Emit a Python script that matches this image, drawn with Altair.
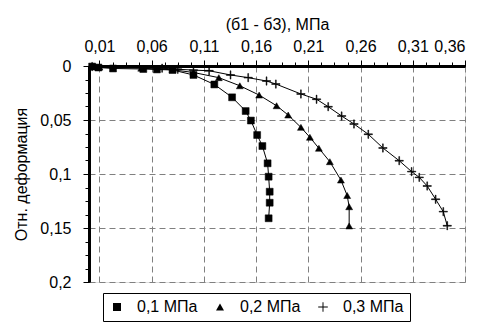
import altair as alt
import pandas as pd

series_names = ["0,1 МПа", "0,2 МПа", "0,3 МПа"]

# 0,1 MPa (squares)
s1_x = [0.003, 0.009, 0.023, 0.052, 0.065, 0.080, 0.100, 0.120, 0.137, 0.150, 0.155, 0.161, 0.166, 0.171, 0.172, 0.173, 0.173, 0.172]
s1_y = [0.0005, 0.0014, 0.0023, 0.0028, 0.0032, 0.0037, 0.0083, 0.0171, 0.0290, 0.0417, 0.0505, 0.0639, 0.0741, 0.0901, 0.1025, 0.1164, 0.1266, 0.1410]

# 0,2 MPa (triangles)
s2_x = [0.003, 0.010, 0.050, 0.080, 0.100, 0.1243, 0.1444, 0.1629, 0.1796, 0.1907, 0.2029, 0.2115, 0.2201, 0.2306, 0.2412, 0.2472, 0.2491, 0.2491]
s2_y = [0.0005, 0.0010, 0.0020, 0.0035, 0.0060, 0.0108, 0.0183, 0.0269, 0.0368, 0.0454, 0.0568, 0.0660, 0.0762, 0.0886, 0.1056, 0.1199, 0.1303, 0.1481]

# 0,3 MPa (pluses)
s3_x = [0.003, 0.070, 0.085, 0.100, 0.1150, 0.1355, 0.1524, 0.1700, 0.1789, 0.2029, 0.2179, 0.2290, 0.2419, 0.2537, 0.2674, 0.2814, 0.2970, 0.3089, 0.3162, 0.3238, 0.3319, 0.3392, 0.3430]
s3_y = [0.0005, 0.0020, 0.0030, 0.0038, 0.0044, 0.0083, 0.0108, 0.0139, 0.0167, 0.0259, 0.0308, 0.0377, 0.0463, 0.0537, 0.0632, 0.0759, 0.0877, 0.0978, 0.1031, 0.1111, 0.1234, 0.1349, 0.1479]

x_major = [0.01, 0.06, 0.11, 0.16, 0.21, 0.26, 0.31, 0.36]
x_minor = [round(0.01 + 0.0125 * i, 4) for i in range(0, 29)]
y_major = [0, 0.05, 0.1, 0.15, 0.2]
y_minor = [round(0.0125 * i, 4) for i in range(0, 17)]

x_title = "(б1 - б3), МПа"
y_title = "Отн. деформация"

rows = []
for name, xs, ys in zip(series_names, [s1_x, s2_x, s3_x], [s1_y, s2_y, s3_y]):
    for i, (xv, yv) in enumerate(zip(xs, ys)):
        rows.append({"series": name, "x": xv, "y": yv, "i": i})
df = pd.DataFrame(rows)

FONT = "Liberation Sans"
# thin filled plus sign
plus_path = "M-1.2,-0.12H-0.12V-1.2H0.12V-0.12H1.2V0.12H0.12V1.2H-0.12V0.12H-1.2Z"

xscale = alt.Scale(domain=[0, 0.36], nice=False, zero=False)
yscale = alt.Scale(domain=[0, 0.2], nice=False, reverse=True)

lbl_x = "replace(format(datum.value, '.2f'), '.', ',')"
lbl_y = "replace(format(datum.value, '~g'), '.', ',')"

FS = 16

x_axis = alt.Axis(orient="top", values=x_major, labelExpr=lbl_x, title=x_title,
                  grid=True, gridColor="#808080", gridDash=[6, 4], gridWidth=1,
                  domainColor="black", domainWidth=3, tickColor="black", tickSize=6,
                  labelPadding=6, titlePadding=6, labelFontSize=FS, titleFontSize=FS,
                  titleFontWeight="normal", labelColor="black", titleColor="black")
y_axis = alt.Axis(orient="left", values=y_major, labelExpr=lbl_y, title=y_title,
                  grid=True, gridColor="#808080", gridDash=[6, 4], gridWidth=1,
                  domainColor="black", domainWidth=3, tickColor="black", tickSize=6,
                  labelPadding=12, titlePadding=10, labelFontSize=FS, titleFontSize=FS,
                  titleFontWeight="normal", labelColor="black", titleColor="black")

x_axis_minor = alt.Axis(orient="top", values=x_minor, labels=False, title=None, grid=False,
                        domain=False, tickColor="black", tickSize=4)
y_axis_minor = alt.Axis(orient="left", values=y_minor, labels=False, title=None, grid=False,
                        domain=False, tickColor="black", tickSize=4)

lines = alt.Chart(df).mark_line(color="black", strokeWidth=1).encode(
    x=alt.X("x:Q", scale=xscale, axis=x_axis),
    y=alt.Y("y:Q", scale=yscale, axis=y_axis),
    detail="series:N",
    order="i:Q",
)

points = alt.Chart(df).mark_point(filled=True, fill="black", stroke="black", strokeWidth=0.5,
                                  opacity=1, size=48).encode(
    x=alt.X("x:Q", scale=xscale, axis=x_axis_minor),
    y=alt.Y("y:Q", scale=yscale, axis=y_axis_minor),
    shape=alt.Shape("series:N",
                    scale=alt.Scale(domain=series_names, range=["square", "triangle-up", plus_path]),
                    legend=alt.Legend(orient="none", legendX=14, legendY=227, direction="horizontal",
                                      title=None, strokeColor="black", fillColor="white", padding=6,
                                      columnPadding=14, labelOffset=12, labelFontSize=FS, labelColor="black",
                                      symbolSize=64, symbolFillColor="black", symbolStrokeColor="black",
                                      symbolStrokeWidth=1, labelFont=FONT)),
)

chart = alt.layer(lines, points).resolve_axis(x="independent", y="independent").properties(
    width=376, height=216,
    autosize=alt.AutoSizeParams(type="none"),
    padding={"left": 81, "top": 58, "right": 8, "bottom": 43},
    background="white",
).configure_view(stroke="black", strokeWidth=1.5).configure(font=FONT)

chart.save("out.html", embed_options={"renderer": "svg", "actions": False})
